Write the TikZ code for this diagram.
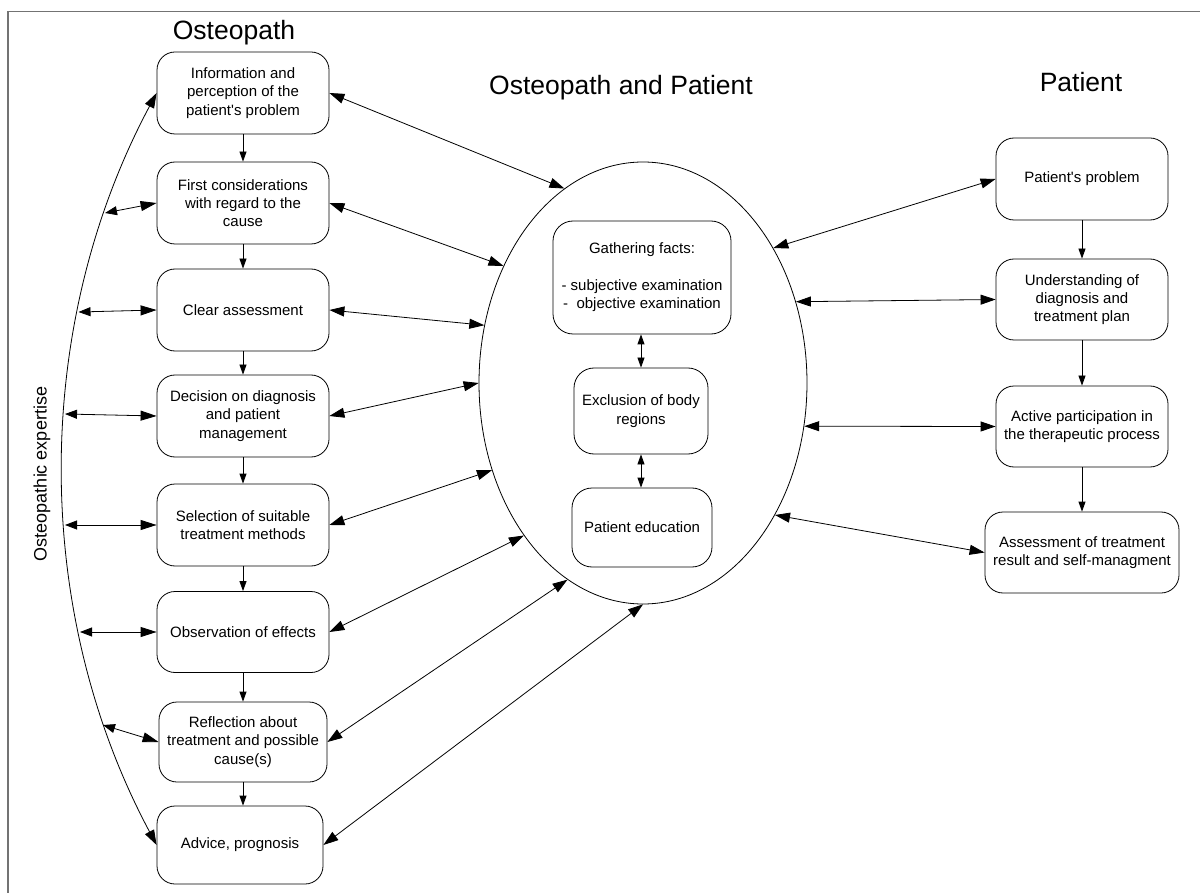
\documentclass[tikz,border=0pt]{standalone}
\usepackage{fontspec}
\setmainfont{Liberation Sans}
\usetikzlibrary{arrows.meta,shapes.geometric}
\newcommand\myBody{\fontsize{15}{18.3}\selectfont}
\newcommand\myTitle{\fontsize{26.5}{30}\selectfont}
\begin{document}
\begin{tikzpicture}[x=1pt,y=-1pt,
  box/.style={draw, line width=0.8pt, rounded corners=18pt, align=center, inner sep=2pt, font=\myBody},
  twohead/.style={line width=0.8pt, {Triangle[length=15pt,width=10pt]}-{Triangle[length=15pt,width=10pt]}},
  arcarrow/.style={line width=0.8pt, {Triangle[length=12pt,width=9pt]}-{Triangle[length=16pt,width=10pt]}},
  onehead/.style={line width=0.8pt, -{Triangle[length=10pt,width=7pt]}},
  smalltwo/.style={line width=0.8pt, {Triangle[length=10pt,width=7pt]}-{Triangle[length=10pt,width=7pt]}},
  titletext/.style={font=\myTitle, anchor=base, inner sep=0pt}
]
\useasboundingbox (0,0) rectangle (1200,893);
\draw[line width=1.5pt, black!55] (8,893) -- (8,11.5) -- (1200,11.5);

% titles
\node[titletext] (t1) at (234,40) {Osteopath};
\node[titletext] (t2) at (621,95) {Osteopath and Patient};
\node[titletext] (t3) at (1081,92) {Patient};
\node[font=\fontsize{18}{20}\selectfont, rotate=90, inner sep=0pt] (t4) at (42,474) {Osteopathic expertise};

% left column
\node[box, minimum width=172pt, minimum height=82pt] (b1) at (243,93) {Information and\\perception of the\\patient\textquotesingle s problem};
\node[box, minimum width=172pt, minimum height=82pt] (b2) at (243,203) {First considerations\\with regard to the\\cause};
\node[box, minimum width=172pt, minimum height=82pt] (b3) at (243,310) {Clear assessment};
\node[box, minimum width=172pt, minimum height=82pt] (b4) at (243,416) {Decision on diagnosis\\and patient\\management};
\node[box, minimum width=172pt, minimum height=82pt] (b5) at (243,525) {Selection of suitable\\treatment methods};
\node[box, minimum width=172pt, minimum height=81pt] (b6) at (243,632) {Observation of effects};
\node[box, minimum width=168pt, minimum height=80pt] (b7) at (243,742) {Reflection about\\treatment and possible\\cause(s)};
\node[box, minimum width=166pt, minimum height=78pt] (b8) at (240,845) {Advice, prognosis};

% ellipse and centre
\node[draw, ellipse, line width=0.8pt, minimum width=328pt, minimum height=442pt, inner sep=0pt] (ell) at (643,383) {};
\node[box, rounded corners=20pt, minimum width=178pt, minimum height=113pt] (c1) at (642,277.5) {Gathering facts:\\\mbox{}\\- subjective examination\\-~~objective examination};
\node[box, rounded corners=20pt, minimum width=134pt, minimum height=86pt] (c2) at (641,411) {Exclusion of body\\regions};
\node[box, rounded corners=20pt, minimum width=140pt, minimum height=79pt] (c3) at (642,527.5) {Patient education};

% right column
\node[box, minimum width=172pt, minimum height=82pt] (r1) at (1082,179) {Patient\textquotesingle s problem};
\node[box, minimum width=172pt, minimum height=81pt] (r2) at (1082,299.5) {Understanding of\\diagnosis and\\treatment plan};
\node[box, minimum width=172pt, minimum height=81pt] (r3) at (1082,426.5) {Active participation in\\the therapeutic process};
\node[box, minimum width=194pt, minimum height=81pt] (r4) at (1082,552.5) {Assessment of treatment\\result and self-managment};

% vertical arrows
\draw[onehead] (b1.south) -- (b2.north);
\draw[onehead] (b2.south) -- (b3.north);
\draw[onehead] (b3.south) -- (b4.north);
\draw[onehead] (b4.south) -- (b5.north);
\draw[onehead] (b5.south) -- (b6.north);
\draw[onehead] (b6.south) -- (b7.north);
\draw[onehead] (b7.south) -- (b7.south |- b8.north);
\draw[onehead] (r1.south) -- (r2.north);
\draw[onehead] (r2.south) -- (r3.north);
\draw[onehead] (r3.south) -- (r4.north);
\draw[smalltwo] (c2.north |- c1.south) -- (c2.north);
\draw[smalltwo] (c2.south) -- (c2.south |- c3.north);

% expertise arc
\draw[twohead] (b1.west) .. controls (31.7,327) and (31.7,611) .. (b8.west);
\coordinate (a2) at (105,213);
\coordinate (a3) at (78.5,312);
\coordinate (a4) at (65,414);
\coordinate (a5) at (65,525);
\coordinate (a6) at (80,632);
\coordinate (a7) at (103,725);
\draw[arcarrow] (a2) -- (b2.west);
\draw[arcarrow] (a3) -- (b3.west);
\draw[arcarrow] (a4) -- (b4.west);
\draw[arcarrow] (a5) -- (b5.west);
\draw[arcarrow] (a6) -- (b6.west);
\draw[arcarrow] (a7) -- (b7.west);

% left boxes to ellipse
\draw[twohead] (b1.east) -- (ell.112.3);
\draw[twohead] (b2.east) -- (ell.140.8);
\draw[twohead] (b3.east) -- (ell.160.5);
\draw[twohead] (b4.east) -- (ell.180.7);
\draw[twohead] (b5.east) -- (ell.210.1);
\draw[twohead] (b6.east) -- (ell.232.9);
\draw[twohead] (b7.east) -- (ell.249.9);
\draw[twohead] (b8.east) -- (ell.270);

% ellipse to right boxes
\draw[twohead] (ell.46.7) -- (r1.west);
\draw[twohead] (ell.28.5) -- (r2.west);
\draw[twohead] (ell.345.1) -- (r3.west);
\draw[twohead] (ell.315.9) -- (r4.west);
\end{tikzpicture}
\end{document}
